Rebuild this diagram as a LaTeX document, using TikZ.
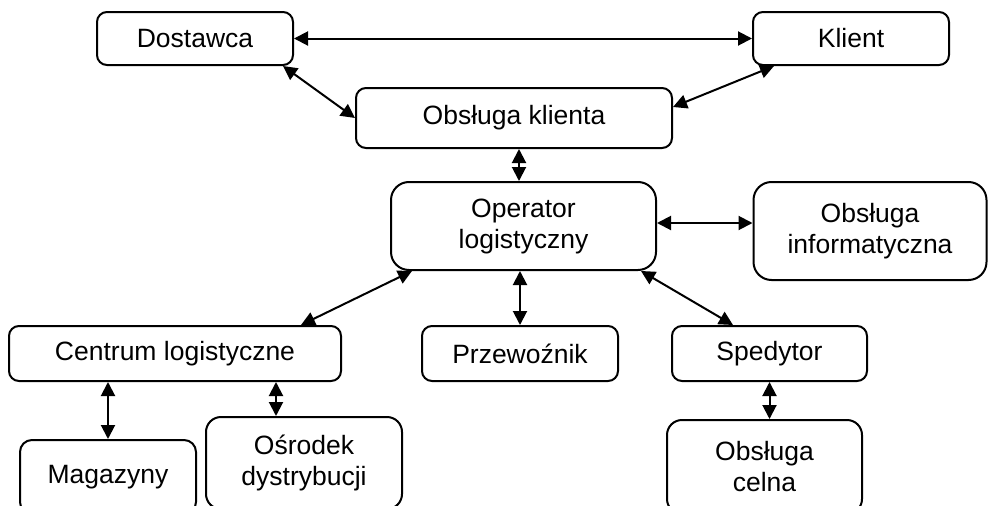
\documentclass[tikz,border=0pt]{standalone}
\usepackage{fontspec}
\setmainfont{Liberation Sans}
\usetikzlibrary{arrows.meta,calc}
\begin{document}
\begin{tikzpicture}[x=1pt,y=-1pt,
  box/.style={draw, line width=2pt, rounded corners=10pt, fill=white,
    align=center, inner sep=0pt, font=\fontsize{26.5}{31}\selectfont},
  tallbox/.style={box, rounded corners=18pt},
  link/.style={line width=2pt,
    {Triangle[length=14pt,width=14pt]}-{Triangle[length=14pt,width=14pt]}}]
\useasboundingbox (0,0) rectangle (988,506);
\clip (0,0) rectangle (988,506);

% top row
\node[box, minimum width=196pt, minimum height=53pt] (dost) at (195,38.5) {Dostawca};
\node[box, minimum width=196pt, minimum height=53pt] (klient) at (851,38.5) {Klient};
\node[box, minimum width=316pt, minimum height=60pt] (obk) at (514,118) {Obsługa klienta};

% operator and IT support
\node[tallbox, minimum width=265pt, minimum height=88pt] (oper) at (523.5,226) {Operator\\logistyczny};
\node[tallbox, minimum width=233pt, minimum height=98pt] (info) at (870,231) {Obsługa\\informatyczna};

% partners of the operator
\node[box, minimum width=332pt, minimum height=55pt] (centrum) at (175,353.5) {Centrum logistyczne};
\node[box, minimum width=196pt, minimum height=55pt] (przew) at (520,353.5) {Przewoźnik};
\node[box, minimum width=195pt, minimum height=55pt] (sped) at (769.5,353.5) {Spedytor};

% bottom row
\node[box, rounded corners=12pt, minimum width=176pt, minimum height=74pt] (mag) at (108,477) {Magazyny};
\node[box, rounded corners=15pt, minimum width=196pt, minimum height=92pt] (osr) at (304,463) {Ośrodek\\dystrybucji};
\node[box, rounded corners=15pt, minimum width=195pt, minimum height=94pt] (celna) at (764.5,467) {Obsługa\\celna};

% connectors
\draw[link] (dost.east) -- (klient.west);
\draw[link] ($(dost.south east)+(-11,0)$) -- (obk.west);
\draw[link] ($(klient.south west)+(22,0)$) -- ($(obk.east)+(0,-11)$);
\coordinate (ko) at ($(obk.south)+(5,0)$);
\draw[link] (ko) -- (ko |- oper.north);
\coordinate (oi) at ($(oper.east)+(0,-3)$);
\draw[link] (oi) -- (oi -| info.west);
\draw[link] ($(centrum.north east)+(-41,0)$) -- ($(oper.south west)+(22,0)$);
\draw[link] (przew.north |- oper.south) -- (przew.north);
\draw[link] ($(oper.south east)+(-16,0)$) -- ($(sped.north west)+(62,0)$);
\draw[link] (mag.north |- centrum.south) -- (mag.north);
\coordinate (co) at ($(osr.north)+(-28,0)$);
\draw[link] (co |- centrum.south) -- (co);
\draw[link] (sped.south) -- (sped.south |- celna.north);
\end{tikzpicture}
\end{document}
